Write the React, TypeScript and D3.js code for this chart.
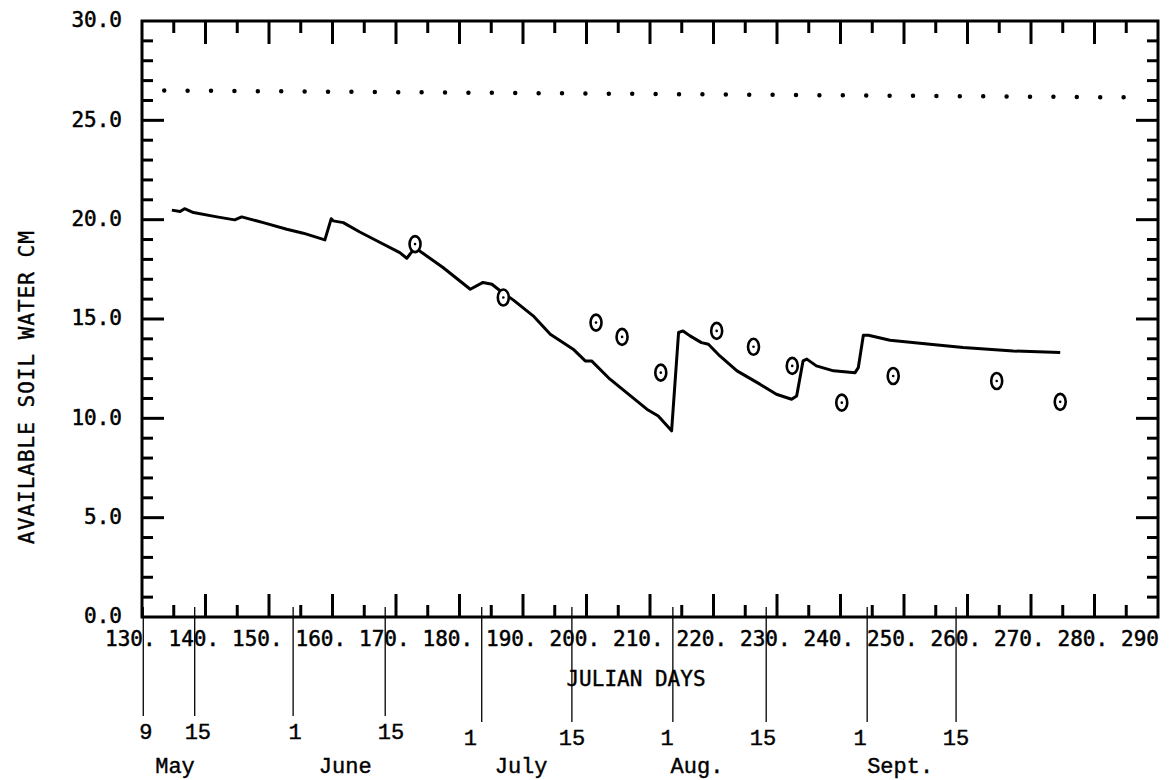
import React from "react";
import * as d3 from "d3";

// ---- data ----
const simulatedDays = [134.7,136.0,136.7,138.1,141.8,144.6,145.7,149.1,152.8,155.4,158.8,159.8,160.1,161.7,164.3,167.5,170.6,171.7,173.0,177.4,181.7,183.7,185.1,186.4,188.5,191.6,194.3,197.9,199.8,200.8,203.7,209.5,211.3,213.4,214.5,215.2,216.3,218.1,219.2,221.0,223.7,227.3,229.9,232.3,233.1,234.1,234.7,236.2,238.9,242.3,242.8,243.6,244.4,247.8,254.1,259.3,267.2,274.6];
const simulatedWater = [20.48,20.41,20.55,20.36,20.14,19.99,20.14,19.85,19.52,19.32,18.98,20.05,19.94,19.85,19.38,18.85,18.34,18.06,18.59,17.59,16.5,16.84,16.75,16.42,15.95,15.16,14.23,13.48,12.89,12.89,11.97,10.46,10.12,9.37,14.32,14.40,14.15,13.81,13.73,13.14,12.39,11.72,11.21,10.96,11.13,12.89,12.98,12.64,12.39,12.30,12.55,14.18,14.18,13.93,13.73,13.56,13.39,13.31];

const observedDays = [173.0,186.9,201.5,205.6,211.7,220.5,226.3,232.4,240.2,248.3,264.6,274.6];
const observedWater = [18.77,16.08,14.82,14.10,12.30,14.40,13.60,12.64,10.79,12.13,11.88,10.83];

const capacityDays = [133.5, 288.2];
const capacityWater = [26.5, 26.15];

const xTickLabels = [130,140,150,160,170,180,190,200,210,220,230,240,250,260,270,280,290];
const yTickLabels = [0,5,10,15,20,25,30];

const dateMarkDays = [130.2,138.3,153.8,168.3,183.5,197.7,213.6,228.3,244.2,258.2];
const dateLabelDays = [130.6,138.8,154.1,169.2,181.7,197.7,212.7,227.8,243.1,258.2];
const dateLabels = ["9","15","1","15","1","15","1","15","1","15"];

const monthNames = ["May","June","July","Aug.","Sept."];
const monthCenterDays = [135.2,162.0,189.7,217.4,249.4];

const W = 1171, H = 780;
const L = 142, R = 1158, T = 21, B = 617;

export default function App() {
  const x = d3.scaleLinear().domain([130, 290]).range([L, R]);
  const y = d3.scaleLinear().domain([0, 30]).range([B, T]);

  const line = d3.line<number>().x((_, i) => x(simulatedDays[i])).y((d) => y(d));
  const capLine = d3.line<number>().x((_, i) => x(capacityDays[i])).y((d) => y(d));

  const minorX = d3.range(135, 290, 5);
  const minorY = d3.range(1, 30, 1);

  const tickFont = "'DejaVu Sans Mono', monospace";
  const typeFont = "'Liberation Mono', 'Courier New', monospace";

  return (
    <svg width={W} height={H} style={{ position: "absolute", left: 0, top: 0, background: "#fff" }}>
      {/* frame */}
      <rect x={L} y={T} width={R - L} height={B - T} fill="none" stroke="#000" strokeWidth={3} />

      {/* top & bottom ticks */}
      {minorX.map((d) => {
        const len = d % 10 === 0 ? 23 : 12;
        return (
          <g key={"xt" + d}>
            <line x1={x(d)} x2={x(d)} y1={T} y2={T + len} stroke="#000" strokeWidth={3} />
            <line x1={x(d)} x2={x(d)} y1={B} y2={B - len} stroke="#000" strokeWidth={3} />
          </g>
        );
      })}

      {/* left & right ticks */}
      {minorY.map((d) => {
        const len = d % 5 === 0 ? 22 : 11;
        return (
          <g key={"yt" + d}>
            <line x1={L} x2={L + len} y1={y(d)} y2={y(d)} stroke="#000" strokeWidth={3} />
            <line x1={R} x2={R - len} y1={y(d)} y2={y(d)} stroke="#000" strokeWidth={3} />
          </g>
        );
      })}

      {/* y tick labels */}
      {yTickLabels.map((d) => (
        <text key={"yl" + d} x={122} y={y(d)} dy="0.3em" textAnchor="end"
          fontFamily={tickFont} fontSize={21} stroke="#000" strokeWidth={0.5}>
          {d.toFixed(1)}
        </text>
      ))}

      {/* x tick labels */}
      {xTickLabels.map((d) => (
        <text key={"xl" + d} x={x(d) - 37} y={646} textAnchor="start"
          fontFamily={tickFont} fontSize={21} stroke="#000" strokeWidth={0.5}>
          {d === 290 ? "290" : d + "."}
        </text>
      ))}

      {/* axis titles */}
      <text transform={`translate(34,387) rotate(-90)`} textAnchor="middle"
        fontFamily={tickFont} fontSize={21} letterSpacing={1} stroke="#000" strokeWidth={0.4}>
        AVAILABLE SOIL WATER CM
      </text>
      <text x={636} y={686} textAnchor="middle" fontFamily={tickFont} fontSize={21}
        stroke="#000" strokeWidth={0.4}>
        JULIAN DAYS
      </text>

      {/* field capacity dotted line */}
      <path d={capLine(capacityWater) || ""} fill="none" stroke="#000" strokeWidth={4.5}
        strokeLinecap="round" strokeDasharray="0 23.4" />

      {/* simulated line */}
      <path d={line(simulatedWater) || ""} fill="none" stroke="#000" strokeWidth={3}
        strokeLinejoin="round" />

      {/* observed points */}
      {observedWater.map((v, i) => (
        <g key={"ob" + i}>
          <ellipse cx={x(observedDays[i])} cy={y(v)} rx={5.5} ry={8} fill="#fff" stroke="#000" strokeWidth={2.6} />
          <circle cx={x(observedDays[i])} cy={y(v)} r={1.3} fill="#000" />
        </g>
      ))}

      {/* calendar date marks */}
      {dateMarkDays.map((d, i) => (
        <line key={"dm" + i} x1={x(d)} x2={x(d)} y1={B - 10} y2={i >= 4 ? 722 : 716} stroke="#000" strokeWidth={1.3} />
      ))}
      {dateLabels.map((s, i) => (
        <text key={"dl" + i} x={x(dateLabelDays[i])} y={i >= 4 ? 745 : 739} textAnchor="middle"
          fontFamily={typeFont} fontSize={22} stroke="#000" strokeWidth={0.4}>
          {s}
        </text>
      ))}
      {monthNames.map((s, i) => (
        <text key={"mn" + i} x={x(monthCenterDays[i])} y={773} textAnchor="middle"
          fontFamily={typeFont} fontSize={22} stroke="#000" strokeWidth={0.4}>
          {s}
        </text>
      ))}
    </svg>
  );
}
